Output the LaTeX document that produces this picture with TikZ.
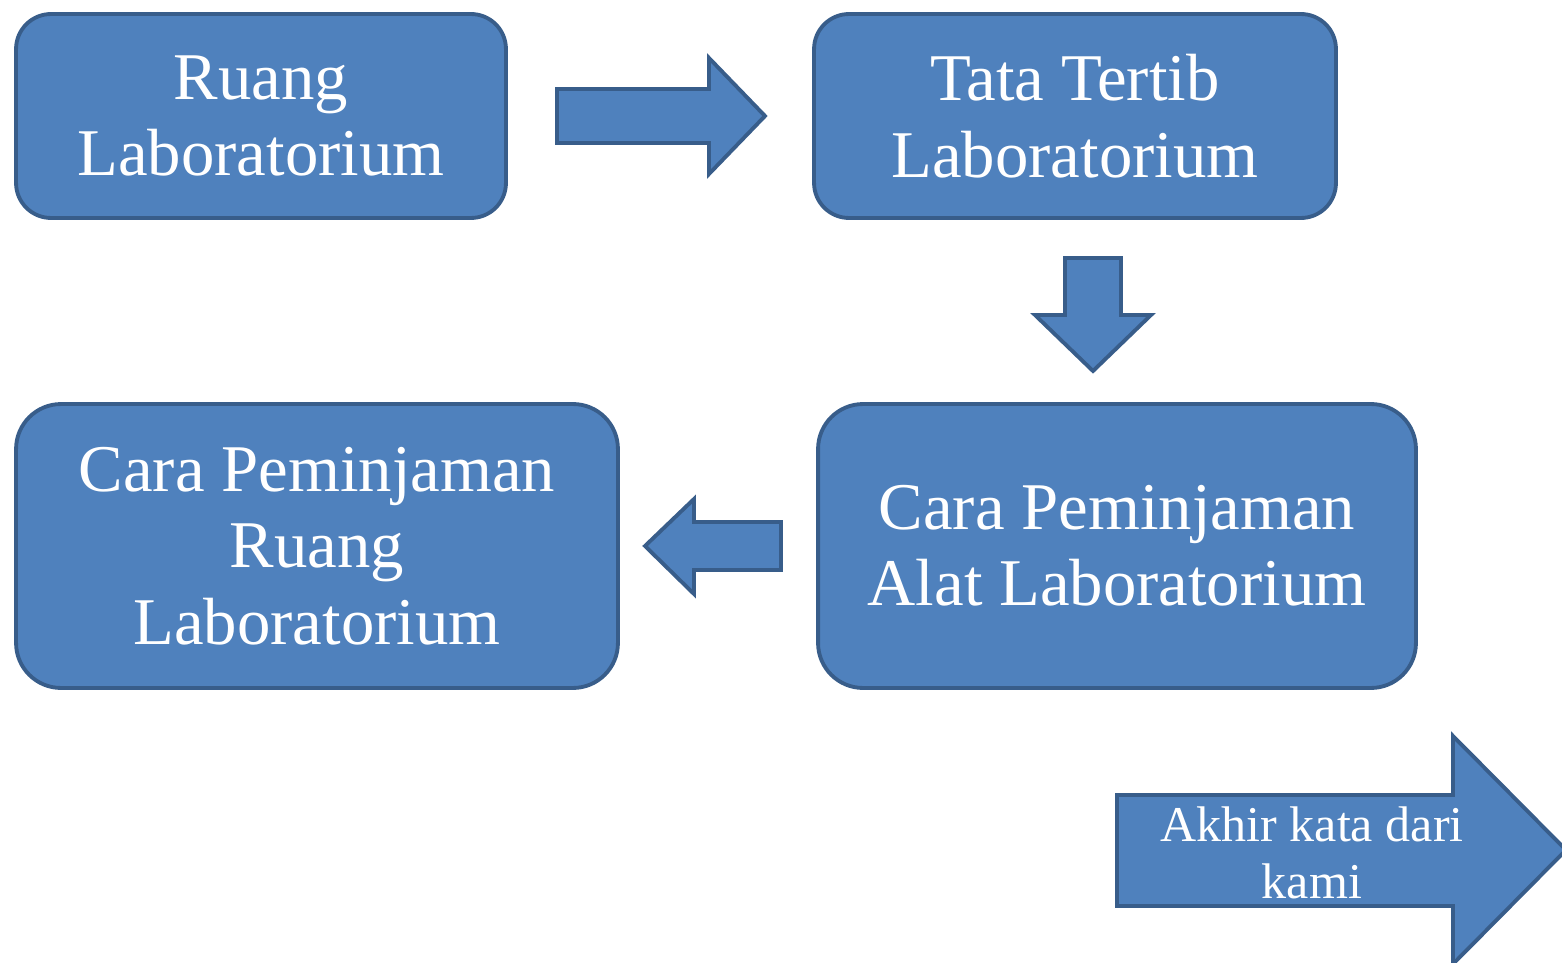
\documentclass[tikz,border=0pt]{standalone}
\usepackage{fontspec}
\setmainfont{Liberation Serif}
\definecolor{boxfill}{HTML}{4F81BD}
\definecolor{boxline}{HTML}{385D8A}
\tikzset{
	box/.style={draw=boxline, fill=boxfill, line width=2.2pt, text=white, align=center,
		font=\fontsize{38}{43.5}\selectfont},
	blk/.style={draw=boxline, fill=boxfill, line width=2.2pt, line join=miter},
}

\begin{document}
\begin{tikzpicture}[x=0.02cm,y=-0.02cm]
	\useasboundingbox (0,0) rectangle (1562,963);
	% kotak
	\node[box, rounded corners=0.7cm, minimum width=9.8cm, minimum height=4.08cm] (ruang) at (261,116) {Ruang\\Laboratorium};
	\node[box, rounded corners=0.7cm, minimum width=10.44cm, minimum height=4.08cm] (tatib) at (1075,116) {Tata Tertib\\Laboratorium};
	\node[box, rounded corners=0.9cm, minimum width=11.96cm, minimum height=5.68cm] (alat) at (1117,546) {Cara Peminjaman\\Alat Laboratorium};
	\node[box, rounded corners=0.9cm, minimum width=12.04cm, minimum height=5.68cm] (pinjam) at (317,546) {Cara Peminjaman\\Ruang\\Laboratorium};
	% panah
	\draw[blk] (557,89) -- (709,89) -- (709,58) -- (765,116) -- (709,174) -- (709,143) -- (557,143) -- cycle;
	\draw[blk] (1065,258) -- (1121,258) -- (1121,315) -- (1151,315) -- (1093,371) -- (1035,315) -- (1065,315) -- cycle;
	\draw[blk] (781,522) -- (694,522) -- (694,499) -- (645,546) -- (694,594) -- (694,570) -- (781,570) -- cycle;
	\draw[blk] (1117,795) -- (1453,795) -- (1453,736) -- (1566,850) -- (1453,964) -- (1453,906) -- (1117,906) -- cycle;
	\node[text=white, align=center, font=\fontsize{28.5}{32.5}\selectfont] (akhir) at (1312,853) {Akhir kata dari\\kami};
\end{tikzpicture}
\end{document}
